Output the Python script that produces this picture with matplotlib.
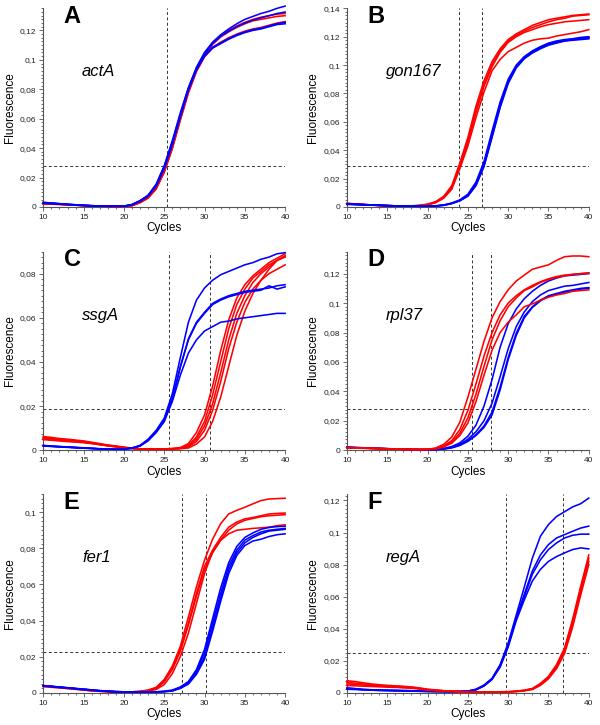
import matplotlib
matplotlib.use('Agg')
import matplotlib.pyplot as plt
from matplotlib.ticker import MultipleLocator, FuncFormatter

plt.rcParams['font.family'] = ['Liberation Sans', 'DejaVu Sans']

# Fluorescence per cycle (cycles 10..40), values in units of 0.001
cycles = list(range(10, 41))

A_red = [
    [2.2, 2.1, 1.9, 1.5, 1.3, 1.0, 0.8, 0.6, 0.5, 0.4, 0.4, 1.0, 3.2, 6.5, 13.0, 25.0, 41.5, 61.0, 79.5, 94.0, 104.5, 111.5, 116.5, 120.0, 123.0, 125.5, 127.5, 129.0, 130.0, 131.0, 131.5],
    [2.0, 1.9, 1.7, 1.4, 1.2, 0.9, 0.7, 0.5, 0.4, 0.3, 0.4, 0.9, 3.0, 6.2, 12.5, 24.0, 40.0, 59.5, 78.0, 93.0, 103.5, 110.5, 115.5, 119.0, 122.0, 124.5, 126.5, 127.5, 128.5, 129.5, 130.0],
    [2.4, 2.2, 1.9, 1.6, 1.3, 1.0, 0.8, 0.6, 0.5, 0.4, 0.5, 1.1, 3.3, 6.6, 13.0, 24.5, 41.0, 60.5, 79.0, 93.0, 102.5, 108.5, 112.0, 115.0, 117.5, 119.5, 121.0, 122.0, 123.5, 125.0, 126.0],
    [2.1, 2.0, 1.8, 1.5, 1.2, 0.9, 0.7, 0.5, 0.4, 0.3, 0.4, 0.9, 2.9, 6.0, 12.2, 23.5, 39.5, 59.0, 77.5, 92.0, 102.0, 108.0, 111.5, 114.5, 117.0, 119.0, 120.5, 121.5, 123.0, 124.5, 125.5],
]
A_blue = [
    [3.0, 2.6, 2.2, 1.8, 1.5, 1.1, 0.9, 0.7, 0.6, 0.5, 0.6, 1.6, 4.2, 7.8, 15.0, 27.5, 44.0, 63.0, 81.0, 95.0, 105.0, 112.0, 117.0, 121.0, 124.5, 127.5, 129.5, 131.5, 133.0, 135.0, 136.5],
    [2.8, 2.5, 2.1, 1.7, 1.4, 1.1, 0.8, 0.7, 0.5, 0.5, 0.6, 1.5, 4.0, 7.5, 14.5, 26.5, 43.0, 62.0, 80.0, 94.0, 104.0, 111.0, 116.0, 119.5, 122.5, 125.0, 127.0, 128.5, 130.0, 131.5, 132.5],
    [3.2, 2.7, 2.3, 1.9, 1.5, 1.2, 0.9, 0.7, 0.6, 0.5, 0.6, 1.7, 4.3, 8.0, 15.5, 28.0, 45.0, 64.0, 81.0, 94.0, 103.0, 108.5, 111.5, 114.5, 117.0, 119.0, 120.5, 121.5, 123.0, 124.5, 125.5],
    [2.6, 2.3, 2.0, 1.7, 1.3, 1.0, 0.8, 0.6, 0.5, 0.4, 0.5, 1.5, 3.9, 7.4, 14.2, 26.0, 42.5, 61.5, 79.5, 93.0, 102.5, 108.0, 111.0, 114.0, 116.5, 118.5, 120.0, 121.0, 122.5, 124.0, 124.5],
]

B_red = [
    [2.6, 2.2, 1.8, 1.5, 1.2, 1.0, 0.8, 0.7, 0.8, 1.2, 2.0, 3.8, 7.5, 15.0, 31.0, 49.0, 71.0, 89.0, 102.5, 111.5, 118.0, 122.0, 125.0, 128.0, 130.0, 132.0, 133.0, 134.0, 135.0, 135.5, 136.0],
    [2.4, 2.1, 1.7, 1.4, 1.1, 0.9, 0.8, 0.7, 0.7, 1.0, 1.8, 3.4, 6.8, 13.8, 29.0, 46.5, 68.0, 86.5, 100.5, 110.0, 117.0, 121.0, 124.0, 126.5, 128.5, 130.5, 132.0, 133.0, 134.5, 135.0, 135.5],
    [2.5, 2.1, 1.8, 1.4, 1.1, 0.9, 0.7, 0.6, 0.7, 1.0, 1.7, 3.2, 6.5, 13.2, 28.0, 45.0, 66.5, 85.0, 99.0, 109.0, 116.0, 120.0, 123.0, 125.0, 127.0, 128.5, 129.5, 130.5, 131.0, 131.5, 132.0],
    [2.3, 2.0, 1.7, 1.3, 1.0, 0.8, 0.7, 0.6, 0.6, 0.9, 1.6, 3.0, 6.2, 12.5, 27.0, 43.0, 63.0, 81.0, 96.0, 104.0, 109.5, 112.5, 115.5, 117.5, 118.5, 119.0, 120.5, 121.5, 122.5, 123.5, 125.0],
]
B_blue = [
    [2.0, 1.8, 1.6, 1.4, 1.2, 1.0, 0.8, 0.7, 0.6, 0.6, 0.6, 0.8, 1.3, 2.6, 4.6, 8.2, 16.0, 30.0, 51.0, 72.0, 88.5, 99.0, 105.5, 109.5, 112.5, 115.0, 116.5, 117.5, 118.5, 119.5, 120.0],
    [2.2, 1.9, 1.7, 1.5, 1.2, 1.0, 0.8, 0.7, 0.6, 0.5, 0.6, 0.8, 1.4, 2.8, 5.0, 9.0, 17.5, 32.0, 53.5, 74.0, 90.0, 100.0, 106.0, 110.0, 113.0, 115.5, 117.0, 118.0, 118.5, 119.0, 119.5],
    [1.8, 1.7, 1.5, 1.3, 1.1, 0.9, 0.8, 0.6, 0.5, 0.5, 0.5, 0.7, 1.2, 2.4, 4.3, 7.6, 15.0, 28.5, 49.0, 70.0, 87.0, 98.0, 104.5, 108.5, 111.5, 114.0, 115.5, 117.0, 118.0, 118.5, 119.0],
    [2.1, 1.8, 1.6, 1.4, 1.2, 1.0, 0.8, 0.7, 0.6, 0.5, 0.5, 0.7, 1.2, 2.5, 4.5, 8.0, 15.5, 29.0, 50.0, 71.0, 88.0, 98.5, 105.0, 109.0, 112.0, 114.5, 116.0, 117.0, 117.5, 118.0, 118.5],
]

C_red = [
    [6.2, 5.8, 5.3, 5.0, 4.6, 4.2, 3.6, 3.0, 2.4, 1.9, 1.4, 1.0, 0.7, 0.5, 0.5, 0.6, 0.8, 1.2, 3.0, 8.0, 16.0, 29.0, 45.0, 59.0, 69.0, 75.0, 79.0, 82.0, 85.0, 87.0, 89.0],
    [5.8, 5.3, 4.9, 4.6, 4.3, 4.0, 3.4, 2.8, 2.2, 1.8, 1.3, 0.9, 0.6, 0.5, 0.5, 0.5, 0.7, 1.0, 2.2, 6.0, 13.0, 25.0, 40.0, 55.0, 66.0, 73.0, 78.0, 81.0, 84.0, 86.0, 88.0],
    [5.2, 4.8, 4.5, 4.2, 3.9, 3.6, 3.1, 2.6, 2.0, 1.6, 1.2, 0.8, 0.6, 0.5, 0.5, 0.5, 0.6, 0.9, 2.0, 5.0, 11.0, 21.0, 35.0, 50.0, 62.0, 70.0, 76.0, 80.0, 83.0, 86.0, 87.5],
    [4.8, 4.5, 4.2, 3.9, 3.7, 3.4, 3.0, 2.5, 2.0, 1.5, 1.1, 0.8, 0.5, 0.4, 0.4, 0.4, 0.5, 0.8, 1.5, 4.0, 9.0, 18.0, 31.0, 46.0, 58.0, 67.0, 73.0, 77.0, 80.0, 82.0, 84.0],
    [5.5, 5.1, 4.7, 4.4, 4.1, 3.8, 3.2, 2.6, 2.1, 1.7, 1.2, 0.8, 0.6, 0.5, 0.5, 0.5, 0.5, 0.7, 1.0, 2.8, 6.0, 13.0, 24.0, 38.0, 52.0, 63.0, 71.0, 77.0, 82.0, 86.0, 88.0],
]
C_blue = [
    [2.0, 1.8, 1.6, 1.4, 1.2, 1.0, 0.8, 0.6, 0.5, 0.5, 0.5, 1.0, 2.2, 5.0, 9.0, 14.5, 25.5, 42.0, 58.0, 68.0, 73.5, 77.0, 79.5, 81.0, 82.5, 84.0, 85.0, 86.5, 87.5, 89.0, 89.5],
    [2.2, 1.9, 1.7, 1.5, 1.3, 1.1, 0.9, 0.7, 0.6, 0.5, 0.5, 1.0, 2.0, 4.6, 8.4, 13.5, 23.5, 38.0, 50.0, 57.5, 62.0, 66.0, 68.0, 69.5, 70.5, 71.5, 72.0, 72.5, 74.5, 73.0, 74.0],
    [1.9, 1.7, 1.5, 1.3, 1.1, 0.9, 0.8, 0.6, 0.5, 0.4, 0.5, 0.9, 2.0, 4.4, 8.2, 13.2, 23.0, 37.5, 50.5, 58.0, 62.5, 66.5, 68.5, 70.0, 71.0, 72.0, 72.5, 73.0, 73.5, 74.5, 75.0],
    [2.1, 1.8, 1.6, 1.4, 1.2, 1.0, 0.8, 0.6, 0.5, 0.5, 0.5, 0.9, 1.9, 4.3, 8.0, 13.0, 22.0, 34.0, 44.0, 50.0, 54.0, 56.0, 58.0, 58.5, 59.5, 60.0, 60.5, 61.0, 61.5, 62.0, 62.0],
]

D_red = [
    [1.8, 1.6, 1.5, 1.3, 1.1, 1.0, 0.8, 0.7, 0.5, 0.5, 0.6, 1.5, 4.0, 9.0, 19.0, 36.0, 55.0, 74.0, 90.0, 101.0, 109.0, 115.0, 119.0, 123.0, 124.5, 126.0, 129.0, 131.5, 132.0, 132.0, 131.5],
    [1.7, 1.5, 1.4, 1.2, 1.1, 0.9, 0.8, 0.6, 0.5, 0.5, 0.6, 1.2, 3.0, 6.5, 14.0, 27.0, 45.0, 64.0, 80.0, 92.0, 100.0, 105.0, 109.0, 112.0, 114.5, 116.5, 118.0, 119.0, 119.5, 120.0, 120.5],
    [1.9, 1.7, 1.5, 1.3, 1.2, 1.0, 0.8, 0.7, 0.5, 0.4, 0.5, 1.0, 2.6, 5.5, 11.5, 22.0, 38.0, 57.0, 75.0, 88.0, 97.5, 103.5, 108.5, 111.0, 114.0, 116.0, 117.5, 118.5, 119.5, 120.0, 120.5],
    [1.6, 1.5, 1.3, 1.2, 1.0, 0.9, 0.7, 0.6, 0.5, 0.4, 0.5, 0.9, 2.2, 4.8, 10.0, 18.5, 33.0, 51.0, 68.0, 80.0, 87.0, 92.0, 97.5, 99.5, 102.0, 104.0, 105.5, 106.5, 108.0, 108.5, 109.0],
]
D_blue = [
    [2.0, 1.8, 1.6, 1.4, 1.2, 1.0, 0.8, 0.7, 0.6, 0.5, 0.5, 0.6, 1.2, 2.5, 5.0, 9.5, 17.0, 30.0, 48.0, 70.0, 86.0, 96.0, 103.0, 108.0, 112.0, 115.0, 117.0, 118.5, 119.0, 119.5, 120.0],
    [1.8, 1.7, 1.5, 1.3, 1.1, 1.0, 0.8, 0.6, 0.5, 0.4, 0.4, 0.5, 1.0, 2.0, 4.0, 7.5, 12.5, 20.0, 32.0, 50.0, 69.0, 84.0, 94.0, 101.0, 105.5, 108.5, 110.0, 111.5, 112.0, 113.0, 114.0],
    [2.2, 1.9, 1.7, 1.5, 1.3, 1.1, 0.9, 0.7, 0.5, 0.4, 0.4, 0.5, 0.9, 1.8, 3.5, 6.5, 10.5, 16.5, 26.0, 43.0, 63.0, 79.5, 91.0, 97.5, 102.0, 105.0, 106.5, 108.0, 109.0, 110.0, 110.5],
    [1.7, 1.6, 1.4, 1.3, 1.1, 0.9, 0.7, 0.6, 0.5, 0.4, 0.4, 0.4, 0.8, 1.6, 3.2, 6.0, 10.0, 15.5, 24.0, 41.0, 61.5, 78.0, 90.0, 97.0, 101.5, 104.5, 106.0, 107.5, 108.5, 109.5, 110.0],
]

E_red = [
    [4.0, 3.5, 3.0, 2.6, 2.2, 1.6, 1.2, 0.9, 0.7, 0.5, 0.4, 0.5, 0.8, 1.5, 3.0, 7.3, 14.7, 25.7, 42.0, 58.7, 73.4, 85.0, 93.6, 99.0, 101.0, 102.7, 104.6, 106.4, 107.3, 107.5, 107.7],
    [3.8, 3.3, 2.9, 2.5, 2.1, 1.6, 1.2, 0.9, 0.6, 0.5, 0.4, 0.5, 0.7, 1.3, 2.6, 6.5, 13.5, 24.0, 38.5, 55.0, 70.0, 79.0, 86.0, 91.7, 94.5, 96.3, 97.0, 98.0, 99.0, 99.3, 99.5],
    [3.6, 3.2, 2.8, 2.4, 2.0, 1.5, 1.1, 0.8, 0.6, 0.5, 0.4, 0.4, 0.6, 1.1, 2.3, 6.0, 12.8, 23.0, 37.5, 53.5, 68.0, 77.5, 84.5, 90.0, 93.5, 95.5, 96.5, 97.5, 98.0, 98.3, 98.6],
    [3.4, 3.0, 2.7, 2.3, 1.9, 1.5, 1.1, 0.8, 0.6, 0.4, 0.3, 0.4, 0.5, 0.9, 1.8, 4.5, 10.5, 20.0, 33.0, 49.5, 66.0, 78.0, 84.4, 88.0, 90.0, 90.5, 91.0, 91.3, 91.7, 92.5, 93.0],
]
E_blue = [
    [4.0, 3.6, 3.2, 2.8, 2.4, 2.0, 1.6, 1.2, 0.9, 0.6, 0.5, 0.4, 0.4, 0.4, 0.5, 0.8, 1.5, 3.2, 6.2, 12.8, 24.0, 41.0, 58.0, 72.0, 81.0, 86.0, 88.5, 90.5, 91.5, 92.0, 92.2],
    [3.8, 3.5, 3.1, 2.7, 2.3, 1.9, 1.5, 1.1, 0.8, 0.6, 0.5, 0.4, 0.4, 0.4, 0.5, 0.7, 1.2, 2.8, 5.7, 12.0, 22.0, 38.5, 55.0, 70.0, 79.0, 84.5, 87.0, 89.0, 90.0, 90.5, 91.0],
    [3.9, 3.5, 3.1, 2.7, 2.3, 1.9, 1.5, 1.1, 0.8, 0.6, 0.5, 0.4, 0.4, 0.4, 0.5, 0.6, 1.0, 2.6, 5.2, 11.0, 20.0, 36.0, 52.5, 68.0, 77.5, 83.0, 86.0, 88.0, 89.5, 90.0, 90.5],
    [3.7, 3.4, 3.0, 2.6, 2.2, 1.8, 1.4, 1.0, 0.8, 0.6, 0.5, 0.4, 0.4, 0.4, 0.4, 0.6, 1.0, 2.4, 4.8, 10.2, 18.5, 34.0, 50.5, 66.0, 76.0, 81.5, 84.0, 85.0, 86.5, 87.5, 88.0],
]

F_red = [
    [7.5, 7.0, 6.2, 5.5, 5.0, 4.6, 4.3, 4.0, 3.6, 3.0, 2.2, 1.8, 1.3, 1.0, 0.8, 0.6, 0.5, 0.5, 0.5, 0.6, 0.7, 1.0, 1.6, 2.6, 5.8, 10.2, 17.5, 28.0, 46.0, 66.5, 86.0],
    [6.5, 6.0, 5.5, 5.0, 4.6, 4.2, 4.0, 3.8, 3.4, 2.8, 2.0, 1.6, 1.2, 0.9, 0.7, 0.5, 0.4, 0.4, 0.4, 0.5, 0.6, 0.9, 1.5, 2.5, 5.4, 9.8, 17.0, 27.0, 44.5, 65.0, 84.0],
    [5.5, 5.2, 4.8, 4.5, 4.2, 3.9, 3.6, 3.3, 3.0, 2.5, 1.8, 1.4, 1.0, 0.8, 0.6, 0.5, 0.4, 0.4, 0.4, 0.4, 0.5, 0.8, 1.3, 2.3, 5.0, 9.3, 16.0, 26.0, 43.0, 63.0, 82.0],
    [4.5, 4.3, 4.1, 3.9, 3.7, 3.5, 3.3, 3.1, 2.8, 2.3, 1.7, 1.3, 1.0, 0.8, 0.6, 0.5, 0.4, 0.4, 0.4, 0.4, 0.5, 0.7, 1.2, 2.0, 4.6, 8.7, 15.0, 24.5, 41.0, 61.0, 80.0],
]
F_blue = [
    [2.8, 2.5, 2.0, 1.8, 1.6, 1.5, 1.4, 1.3, 1.2, 1.0, 0.9, 0.8, 0.8, 0.7, 0.8, 1.0, 2.2, 4.8, 9.0, 17.5, 31.0, 48.5, 66.0, 84.0, 97.7, 105.0, 110.0, 113.0, 116.0, 118.0, 121.5],
    [2.5, 2.3, 1.9, 1.7, 1.5, 1.4, 1.3, 1.2, 1.1, 0.9, 0.8, 0.8, 0.7, 0.7, 0.8, 1.0, 2.0, 4.5, 8.7, 17.0, 30.0, 47.0, 61.5, 76.0, 86.0, 92.5, 96.6, 98.7, 100.8, 102.8, 104.0],
    [2.2, 2.0, 1.8, 1.6, 1.4, 1.3, 1.2, 1.1, 1.0, 0.9, 0.8, 0.7, 0.7, 0.6, 0.7, 0.9, 1.9, 4.3, 8.5, 16.5, 29.5, 46.0, 60.0, 74.0, 83.0, 89.4, 93.5, 96.6, 98.3, 99.0, 99.0],
    [3.0, 2.6, 2.1, 1.9, 1.7, 1.6, 1.5, 1.4, 1.3, 1.1, 1.0, 0.9, 0.8, 0.7, 0.8, 0.9, 1.8, 4.2, 8.3, 16.0, 28.5, 45.0, 58.0, 69.7, 77.0, 82.0, 85.0, 87.3, 89.4, 90.4, 89.8],
]

letters = ['A', 'B', 'C', 'D', 'E', 'F']
genes = ['actA', 'gon167', 'ssgA', 'rpl37', 'fer1', 'regA']
thresholds = [0.028, 0.029, 0.0186, 0.028, 0.0226, 0.0248]
ct_lines = [[25.3], [23.9, 26.8], [25.6, 30.7], [25.5, 27.9], [27.2, 30.2], [29.75, 36.75]]
y_tops = [0.135, 0.14, 0.09, 0.135, 0.11, 0.124]
red_sets = [A_red, B_red, C_red, D_red, E_red, F_red]
blue_sets = [A_blue, B_blue, C_blue, D_blue, E_blue, F_blue]
blue_on_top = [True, True, True, False, True, False]


def comma_fmt(v, pos):
    if abs(v) < 1e-9:
        return '0'
    return f'{v:g}'.replace('.', ',')


def plot_panel(axes, reds, blues, threshold, cts, y_top, letter, gene, blue_last):
    groups = [(reds, '#ff0000'), (blues, '#0000ff')]
    if not blue_last:
        groups = groups[::-1]
    for curves, color in groups:
        for curve in curves:
            axes.plot(cycles, [v / 1000 for v in curve], color=color,
                      lw=1.15, clip_on=False, zorder=3,
                      solid_joinstyle='round')

    axes.axhline(threshold, color='#333333', lw=0.7, dashes=(3, 2.5), zorder=2)
    for ct in cts:
        axes.axvline(ct, color='#333333', lw=0.7, dashes=(3, 2.5), zorder=2)

    axes.set_xlim(10, 40)
    axes.set_ylim(0, y_top)
    axes.xaxis.set_major_locator(MultipleLocator(5))
    axes.xaxis.set_minor_locator(MultipleLocator(1))
    axes.yaxis.set_major_locator(MultipleLocator(0.02))
    axes.yaxis.set_minor_locator(MultipleLocator(0.0025))
    axes.yaxis.set_major_formatter(FuncFormatter(comma_fmt))

    axes.tick_params(which='both', direction='out', colors='#555555',
                     labelcolor='#222222', labelsize=6, width=0.6)
    axes.tick_params(which='major', length=3, pad=2)
    axes.tick_params(which='minor', length=1.5)
    for side in ['top', 'right']:
        axes.spines[side].set_visible(False)
    for side in ['left', 'bottom']:
        axes.spines[side].set_color('#555555')
        axes.spines[side].set_linewidth(0.8)

    axes.set_xlabel('Cycles', fontsize=8.5, labelpad=1)
    axes.set_ylabel('Fluorescence', fontsize=8.5, labelpad=3)
    axes.text(0.085, 0.9, letter, transform=axes.transAxes, fontsize=17,
              fontweight='bold', ha='left', va='bottom')
    axes.text(0.16, 0.68, gene, transform=axes.transAxes, fontsize=12,
              style='italic', ha='left', va='center')


figure = plt.figure(figsize=(6, 7.25), dpi=100)
lefts = [0.0722, 0.5783]
bottoms = [0.7145, 0.379, 0.0445]
for index in range(6):
    row, col = divmod(index, 2)
    axes = figure.add_axes([lefts[col], bottoms[row], 0.403, 0.274])
    plot_panel(axes, red_sets[index], blue_sets[index], thresholds[index],
               ct_lines[index], y_tops[index], letters[index], genes[index],
               blue_on_top[index])

figure.savefig('out.png', dpi=100)
